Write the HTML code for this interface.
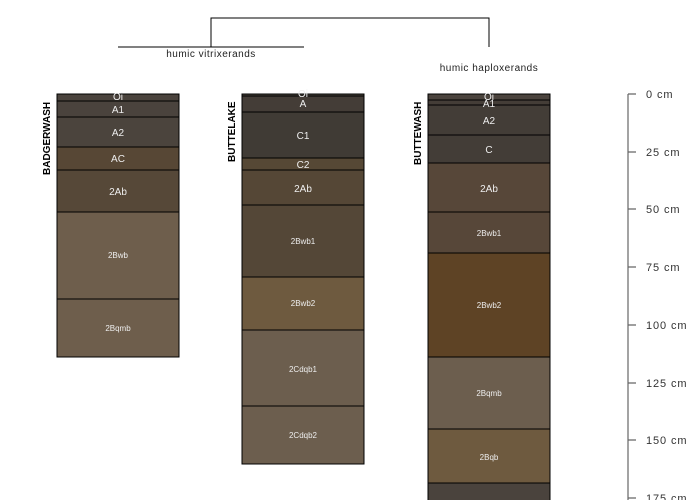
<!DOCTYPE html>
<html><head><meta charset="utf-8"><style>body{margin:0;background:#fff}svg{display:block}</style></head><body>
<svg width="700" height="500" xmlns="http://www.w3.org/2000/svg" font-family="Liberation Sans, sans-serif">
<g stroke="#000" fill="none" stroke-width="1">
<path d="M211 47V18H489V47"/><path d="M118 47H304"/>
</g>
<text x="211" y="57" font-size="10" letter-spacing="0.5" text-anchor="middle" fill="#222">humic vitrixerands</text>
<text x="489" y="71" font-size="10" letter-spacing="0.5" text-anchor="middle" fill="#222">humic haploxerands</text>
<g stroke="#000" stroke-width="1">
<rect x="57" y="94" width="122" height="7" fill="#4a433d"/>
<rect x="57" y="101" width="122" height="16" fill="#4a433d"/>
<rect x="57" y="117" width="122" height="30" fill="#4b443d"/>
<rect x="57" y="147" width="122" height="23" fill="#574735"/>
<rect x="57" y="170" width="122" height="42" fill="#564838"/>
<rect x="57" y="212" width="122" height="87" fill="#6e5e4c"/>
<rect x="57" y="299" width="122" height="58" fill="#6e5e4c"/>
<rect x="242" y="94" width="122" height="2" fill="#4a433d"/>
<rect x="242" y="96" width="122" height="16" fill="#443d37"/>
<rect x="242" y="112" width="122" height="46" fill="#403b35"/>
<rect x="242" y="158" width="122" height="12" fill="#564835"/>
<rect x="242" y="170" width="122" height="35" fill="#554736"/>
<rect x="242" y="205" width="122" height="72" fill="#544737"/>
<rect x="242" y="277" width="122" height="53" fill="#6e5a3f"/>
<rect x="242" y="330" width="122" height="76" fill="#6c5e4e"/>
<rect x="242" y="406" width="122" height="58" fill="#6c5e4e"/>
<rect x="428" y="94" width="122" height="6" fill="#4a433d"/>
<rect x="428" y="100" width="122" height="5" fill="#443d37"/>
<rect x="428" y="105" width="122" height="30" fill="#433d37"/>
<rect x="428" y="135" width="122" height="28" fill="#433d37"/>
<rect x="428" y="163" width="122" height="49" fill="#574739"/>
<rect x="428" y="212" width="122" height="41" fill="#574739"/>
<rect x="428" y="253" width="122" height="104" fill="#5e4325"/>
<rect x="428" y="357" width="122" height="72" fill="#6c5e4e"/>
<rect x="428" y="429" width="122" height="54" fill="#6e5a3f"/>
<rect x="428" y="483" width="122" height="30" fill="#4a433d"/>
</g>
<g fill="#eee" text-anchor="middle" font-size="10">
<text x="118" y="100">Oi</text><text x="118" y="113">A1</text><text x="118" y="136">A2</text><text x="118" y="162">AC</text><text x="118" y="195">2Ab</text>
<text x="118" y="258" font-size="8">2Bwb</text><text x="118" y="331" font-size="8">2Bqmb</text>
<text x="303" y="97">Oi</text><text x="303" y="107">A</text><text x="303" y="139">C1</text><text x="303" y="168">C2</text><text x="303" y="192">2Ab</text>
<text x="303" y="244" font-size="8">2Bwb1</text><text x="303" y="306" font-size="8">2Bwb2</text><text x="303" y="372" font-size="8">2Cdqb1</text><text x="303" y="438" font-size="8">2Cdqb2</text>
<text x="489" y="100">Oi</text><text x="489" y="107">A1</text><text x="489" y="124">A2</text><text x="489" y="153">C</text><text x="489" y="192">2Ab</text>
<text x="489" y="236" font-size="8">2Bwb1</text><text x="489" y="308" font-size="8">2Bwb2</text><text x="489" y="396" font-size="8">2Bqmb</text><text x="489" y="460" font-size="8">2Bqb</text>
</g>
<g font-size="10" font-weight="bold" fill="#000">
<text transform="translate(50,175) rotate(-90)">BADGERWASH</text>
<text transform="translate(235,162) rotate(-90)">BUTTELAKE</text>
<text transform="translate(421,165) rotate(-90)">BUTTEWASH</text>
</g>
<g stroke="#666" stroke-width="1.2">
<path d="M628 94V500"/>
<path d="M628 94H636M628 152H636M628 209H636M628 267H636M628 325H636M628 383H636M628 440H636M628 498H636"/>
</g>
<g font-size="11" fill="#333" letter-spacing="0.9">
<text x="646" y="98">0 cm</text><text x="646" y="156">25 cm</text><text x="646" y="213">50 cm</text><text x="646" y="271">75 cm</text>
<text x="646" y="329">100 cm</text><text x="646" y="387">125 cm</text><text x="646" y="444">150 cm</text><text x="646" y="502">175 cm</text>
</g>
</svg>
</body></html>
